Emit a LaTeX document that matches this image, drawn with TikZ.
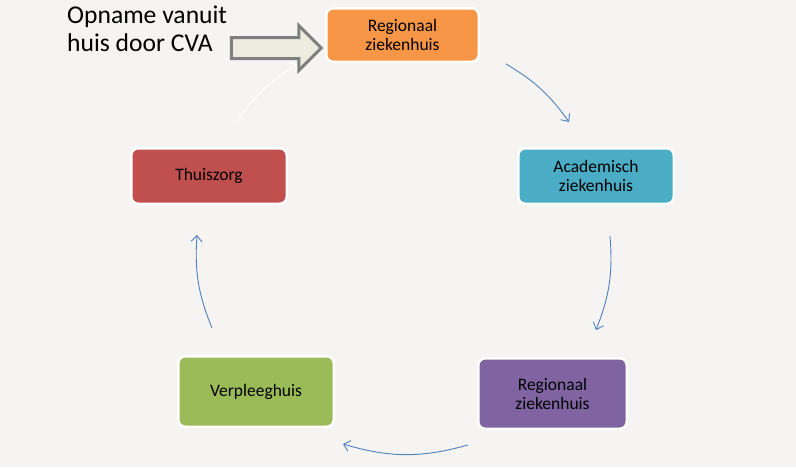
\documentclass[tikz,border=0pt]{standalone}
\usepackage{fontspec}
\setmainfont{Carlito}
\usetikzlibrary{arrows.meta,shapes.arrows}
\definecolor{achter}{HTML}{F5F4F2}
\definecolor{oranje}{HTML}{F79646}
\definecolor{blauw}{HTML}{4BACC6}
\definecolor{rood}{HTML}{C0504D}
\definecolor{groen}{HTML}{9BBB59}
\definecolor{paars}{HTML}{8064A2}
\definecolor{pijl}{HTML}{4F81BD}
\definecolor{rand}{HTML}{7F7F7F}
\definecolor{pijlvul}{HTML}{EEECE1}
\tikzset{
	zorg/.style={rectangle,rounded corners=7pt,draw=white,line width=2.5pt,minimum width=155.5pt,align=center,text=black,font=\fontsize{17.5}{19}\selectfont},
	flow/.style={draw=pijl,line width=0.9pt,-{Straight Barb[length=6pt,width=11pt]}}
}
\begin{document}
\begin{tikzpicture}[x=1pt,y=-1pt]
		\fill[achter] (0,0) rectangle (796,467);
		\useasboundingbox (0,0) rectangle (796,467);
		\node[zorg,fill=oranje,minimum width=152.5pt,minimum height=53.5pt](reg1) at (402.5,35){Regionaal\\ziekenhuis};
		\node[zorg,fill=blauw,minimum height=55.5pt](acad) at (596,176){Academisch\\ziekenhuis};
		\node[zorg,fill=paars,minimum width=148.5pt,minimum height=70.5pt](reg2) at (552.5,393.5){Regionaal\\ziekenhuis};
		\node[zorg,fill=groen,minimum height=70.5pt](verpl) at (256,391.5){Verpleeghuis};
		\node[zorg,fill=rood,minimum height=55.5pt](thuis) at (209,176){Thuiszorg};
		\node[anchor=north west,inner sep=0pt,align=left,font=\fontsize{25.6}{28}\selectfont](cva) at (67,6){Opname vanuit\\huis door CVA};
		% ends of the cycle arrows
		\coordinate (a1) at (506,64); \coordinate (b1) at (569,122);
		\coordinate (a2) at (610,236); \coordinate (b2) at (596,330);
		\coordinate (a3) at (468,445); \coordinate (b3) at (343,444);
		\coordinate (a4) at (212,328); \coordinate (b4) at (197,235);
		\coordinate (a5) at (235,123); \coordinate (b5) at (298,64);
		\path
		(a1) edge[flow,bend left=12] (b1)
		(a2) edge[flow,bend left=13] (b2)
		(a3) edge[flow,bend left=16] (b3)
		(a4) edge[flow,bend left=13] (b4)
		(a5) edge[flow,draw=white,bend left=11] (b5);
		\node[single arrow,draw=rand,fill=pijlvul,line width=3pt,minimum height=90pt,minimum width=42pt,single arrow head extend=12pt,inner sep=9pt](opname) at (271,48){};
		\end{tikzpicture}
\end{document}
